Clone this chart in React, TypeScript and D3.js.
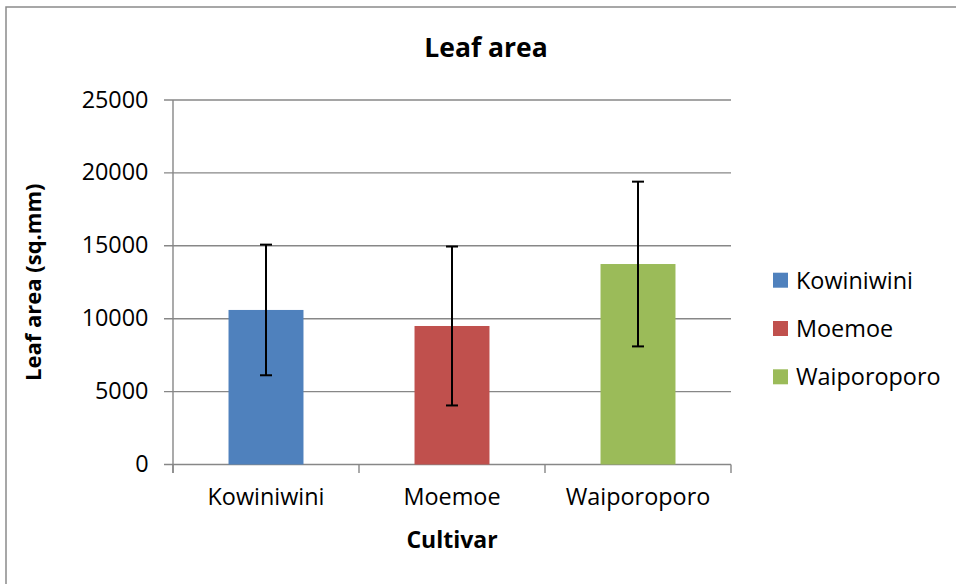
import React from "react";
import * as d3 from "d3";

const categories = ["Kowiniwini", "Moemoe", "Waiporoporo"];
const means = [10600, 9500, 13750];
const errors = [4480, 5450, 5650];
const colors = ["#4F81BD", "#C0504D", "#9BBB59"];
const yTicks = [0, 5000, 10000, 15000, 20000, 25000];

const FONT = "'Open Sans', 'Noto Sans', sans-serif";

export default function App() {
  const W = 956;
  const H = 584;
  const x0 = 173;
  const x1 = 731;
  const yTop = 100;
  const yBot = 464.5;

  const x = d3
    .scaleBand<string>()
    .domain(categories)
    .range([x0, x1])
    .paddingInner(0.597)
    .paddingOuter(0.597 / 2);
  const y = d3.scaleLinear().domain([0, 25000]).range([yBot, yTop]);
  const step = x.step();
  const grid = "#878787";

  return (
    <svg
      width={W}
      height={H}
      style={{ position: "absolute", left: 0, top: 0, background: "#fff" }}
      fontFamily={FONT}
    >
      <rect x={0} y={0} width={W} height={H} fill="#fff" />
      <rect x={6} y={7} width={1200} height={1200} fill="none" stroke="#8a8a8a" strokeWidth={1.5} />

      <text x={486} y={56.7} textAnchor="middle" fontSize={26.5} fontWeight={700} fill="#000">
        Leaf area
      </text>

      {yTicks.map((t) => (
        <g key={t}>
          <line x1={164} x2={x1} y1={y(t)} y2={y(t)} stroke={grid} strokeWidth={1.4} />
          <text x={148.5} y={y(t) + 7.5} textAnchor="end" fontSize={23.4} fill="#000">
            {t}
          </text>
        </g>
      ))}

      <line x1={x0} x2={x0} y1={yTop} y2={yBot + 8.5} stroke={grid} strokeWidth={1.4} />
      {[0, 1, 2, 3].map((i) => (
        <line key={i} x1={x0 + i * step} x2={x0 + i * step} y1={yBot} y2={yBot + 8.5} stroke={grid} strokeWidth={1.4} />
      ))}

      {categories.map((c, i) => {
        const bx = x(c)!;
        const cx = bx + x.bandwidth() / 2;
        return (
          <g key={c}>
            <rect x={bx} y={y(means[i])} width={x.bandwidth()} height={yBot - y(means[i])} fill={colors[i]} />
            <line x1={cx} x2={cx} y1={y(means[i] + errors[i])} y2={y(means[i] - errors[i])} stroke="#000" strokeWidth={2} />
            <line x1={cx - 6} x2={cx + 6} y1={y(means[i] + errors[i])} y2={y(means[i] + errors[i])} stroke="#000" strokeWidth={2} />
            <line x1={cx - 6} x2={cx + 6} y1={y(means[i] - errors[i])} y2={y(means[i] - errors[i])} stroke="#000" strokeWidth={2} />
            <text x={x0 + (i + 0.5) * step} y={505} textAnchor="middle" fontSize={23.4} fill="#000">
              {c}
            </text>
          </g>
        );
      })}

      <text x={452} y={548} textAnchor="middle" fontSize={23} fontWeight={700} fill="#000">
        Cultivar
      </text>

      <text
        transform={`translate(41,${(yTop + yBot) / 2}) rotate(-90)`}
        textAnchor="middle"
        fontSize={22}
        fontWeight={700}
        fill="#000"
      >
        Leaf area (sq.mm)
      </text>

      {categories.map((c, i) => (
        <g key={"lg" + c}>
          <rect x={773} y={272.7 + i * 48.3} width={15} height={15} fill={colors[i]} />
          <text x={796} y={288.5 + i * 48.3} fontSize={23.4} fill="#000">
            {c}
          </text>
        </g>
      ))}
    </svg>
  );
}
